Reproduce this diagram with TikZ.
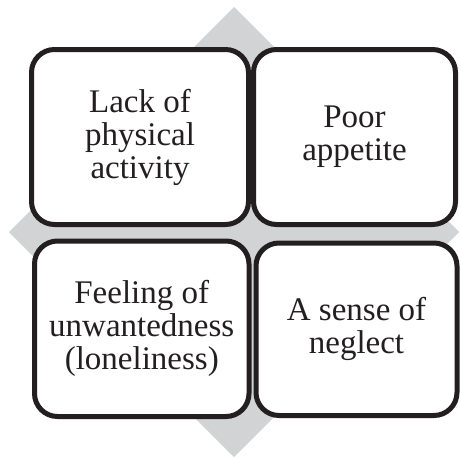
\documentclass[tikz,border=0pt]{standalone}
\usepackage{fontspec}
\setmainfont{Liberation Serif}
\definecolor{diamondgray}{RGB}{209,211,212}
\definecolor{boxline}{RGB}{35,31,32}
\begin{document}
\begin{tikzpicture}[x=1pt,y=-1pt,
  card/.style={draw=boxline, line width=5pt, fill=white, rounded corners=23pt,
    rectangle, align=center, inner sep=0pt,
    font=\fontsize{33}{33}\selectfont, text=boxline}]
\useasboundingbox (0,0) rectangle (461,458);
\fill[diamondgray] (234,7) -- (459,232) -- (234,457) -- (9,232) -- cycle;
\node[card, minimum width=217pt, minimum height=175pt] (tl) at (140,137) {Lack of\\physical\\activity};
\node[card, minimum width=202pt, minimum height=175pt] (tr) at (354.5,137) {Poor\\appetite};
\node[card, minimum width=214.5pt, minimum height=175.5pt] (bl) at (141.75,328.75) {Feeling of\\unwantedness\\(loneliness)};
\node[card, minimum width=201pt, minimum height=172.5pt] (br) at (356.5,329.25) {A sense of\\neglect};
\end{tikzpicture}
\end{document}
